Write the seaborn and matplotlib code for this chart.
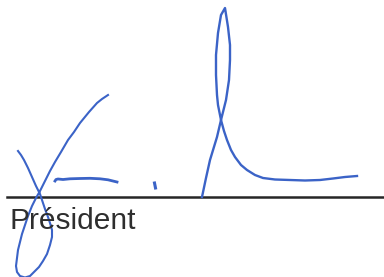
import pandas as pd
import matplotlib
matplotlib.use('Agg')
import matplotlib.pyplot as plt
import seaborn as sns

# signature strokes, pixel coords (x right, y down)
stroke_j_x = [108, 102, 97, 89, 80, 74, 68, 61, 55, 50, 45, 40, 36, 32, 28, 25, 22, 20, 18, 17, 16, 17, 20, 25,
              30, 34, 39, 43, 47, 50, 52, 52, 50, 48, 45, 43, 40, 36, 32, 28, 24, 21, 18]
stroke_j_y = [95, 99, 103, 112, 123, 132, 140, 152, 162, 171, 181, 191, 198, 206, 216, 225, 234, 242, 250, 258, 266, 272, 276, 277.5,
              276, 272, 267, 261, 254, 245, 237, 230, 223, 217, 209, 203, 194, 186, 177, 168, 160, 155, 151]

dash_x = [55, 56, 58, 63, 70, 80, 90, 100, 108, 117]
dash_y = [181, 179.5, 179, 179.5, 178.8, 178.5, 178.3, 178.8, 179.8, 182]

dot_x = [154.5, 155, 155.5]
dot_y = [183, 185.5, 188]

loop_x = [202, 206, 210, 217, 221, 226, 229, 230, 230, 228, 225, 221, 218, 216, 216, 217, 218, 221,
          224, 227, 231, 235, 241, 247, 255, 263, 275, 290, 305, 320, 333, 345, 357]
loop_y = [197, 178, 160, 137, 120, 100, 80, 60, 45, 27, 8, 15, 33, 55, 75, 95, 105, 120,
          131, 140, 150, 157, 165, 170, 175, 178, 179.5, 180, 180.5, 180, 178.5, 177, 176]

rule_x = [7, 384]
rule_y = [196.5, 196.5]

label = "Président"

ink = '#3b63c7'

fig = plt.figure(figsize=(3.84, 2.77), dpi=100)
ax = fig.add_axes([0, 0, 1, 1])

sns.lineplot(x=rule_x, y=rule_y, ax=ax, color='#262626', linewidth=1.8, sort=False, estimator=None)
ax.text(9, 229, label, fontsize=21.5, color='#2e2e2e', family='Liberation Sans', va='baseline', ha='left')

sns.lineplot(x=stroke_j_x, y=stroke_j_y, ax=ax, color=ink, linewidth=1.5, sort=False, estimator=None)
sns.lineplot(x=dash_x, y=dash_y, ax=ax, color=ink, linewidth=2.0, sort=False, estimator=None)
sns.lineplot(x=dot_x, y=dot_y, ax=ax, color=ink, linewidth=2.2, sort=False, estimator=None)
sns.lineplot(x=loop_x, y=loop_y, ax=ax, color=ink, linewidth=1.7, sort=False, estimator=None)

ax.set_xlim(0, 384)
ax.set_ylim(277, 0)
ax.axis('off')
plt.savefig('out.png', dpi=100)
